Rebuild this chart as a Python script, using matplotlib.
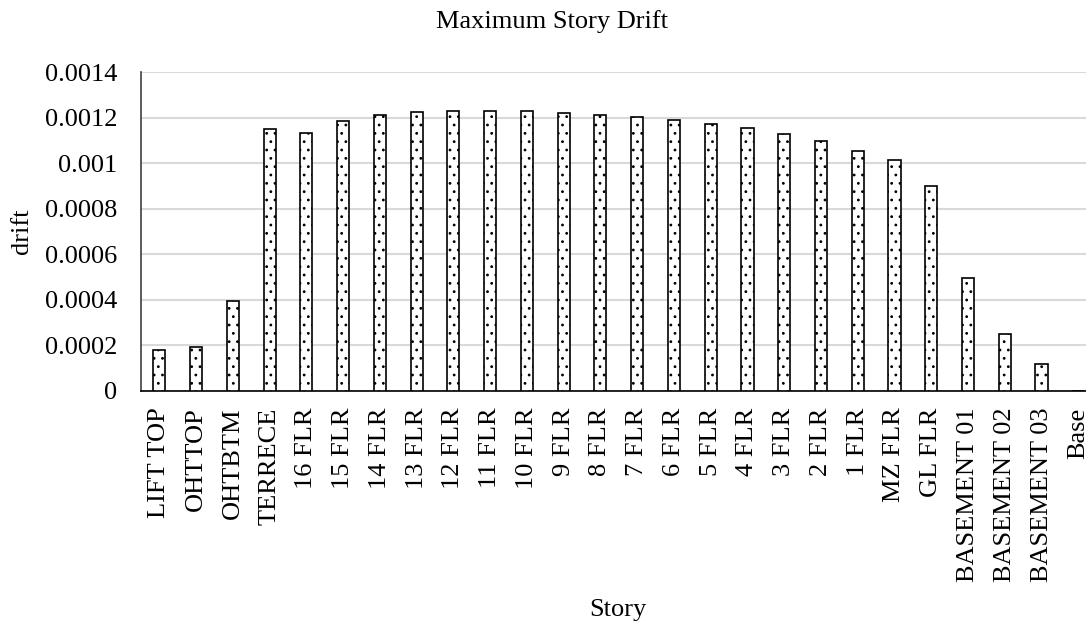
import matplotlib
matplotlib.use("Agg")
import matplotlib.pyplot as plt
from matplotlib.ticker import FuncFormatter, MultipleLocator

# ---------- data ----------
stories = ["LIFT TOP", "OHTTOP", "OHTBTM", "TERRECE", "16 FLR", "15 FLR",
           "14 FLR", "13 FLR", "12 FLR", "11 FLR", "10 FLR", "9 FLR", "8 FLR",
           "7 FLR", "6 FLR", "5 FLR", "4 FLR", "3 FLR", "2 FLR", "1 FLR",
           "MZ FLR", "GL FLR", "BASEMENT 01", "BASEMENT 02", "BASEMENT 03", "Base"]
drift = [0.000179, 0.000192, 0.000396, 0.00115, 0.001134, 0.001185,
         0.001213, 0.001226, 0.001231, 0.001231, 0.001228, 0.00122, 0.001213,
         0.001201, 0.001188, 0.001172, 0.001153, 0.00113, 0.001098, 0.001054,
         0.001013, 0.000899, 0.000494, 0.000249, 0.000117, 0.0]

plt.rcParams['font.family'] = ['Liberation Serif', 'DejaVu Serif']
plt.rcParams['hatch.linewidth'] = 0.8

fig = plt.figure(figsize=(10.86, 6.24), dpi=100)
ax = fig.add_axes([0.1298, 0.3734, 0.880, 0.511])

x = range(len(stories))
ax.bar(x, drift, width=0.33, color='white', edgecolor='black',
       linewidth=1.2, hatch='..', zorder=3)

ax.set_xlim(-0.5, len(stories) - 0.5)
ax.set_ylim(0, 0.0014)
ax.yaxis.set_major_locator(MultipleLocator(0.0002))
ax.yaxis.set_major_formatter(FuncFormatter(lambda v, p: '0' if abs(v) < 1e-12 else '%g' % round(v, 6)))
ax.set_xticks(list(x))
ax.set_xticklabels(stories, rotation=90)
ax.tick_params(axis='both', length=0, labelsize=19)
ax.tick_params(axis='y', pad=17)
ax.tick_params(axis='x', pad=12)

ax.grid(axis='y', color='#d9d9d9', linewidth=1.5, zorder=0)
ax.set_axisbelow(True)
for side in ['top', 'right']:
    ax.spines[side].set_visible(False)
ax.spines['left'].set_color('#404040')
ax.spines['left'].set_linewidth(1.2)
ax.spines['bottom'].set_color('black')
ax.spines['bottom'].set_linewidth(1.2)

fig.text(552 / 1086, 1 - 22 / 624, 'Maximum Story Drift', fontsize=19,
         ha='center', va='center')
fig.text(618 / 1086, 1 - 610 / 624, 'Story', fontsize=19,
         ha='center', va='center')
fig.text(22 / 1086, 1 - 231 / 624, 'drift', fontsize=19, rotation=90,
         ha='center', va='center')

fig.savefig('out.png', dpi=100)
